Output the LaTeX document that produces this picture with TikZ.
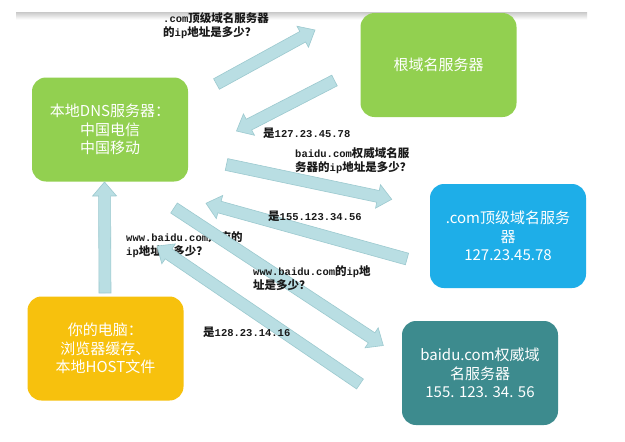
\documentclass[tikz,border=0pt]{standalone}
\usepackage{fontspec}
\usetikzlibrary{calc}
\newfontfamily\cjkfont{Noto Sans CJK SC}
\newfontfamily\monofont{Liberation Mono}
\definecolor{greenc}{HTML}{92D050}
\definecolor{bluec}{HTML}{1EAEE8}
\definecolor{tealc}{HTML}{3D8B8E}
\definecolor{yellowc}{HTML}{F7C10D}
\definecolor{arrowc}{HTML}{B9DEE3}
\definecolor{arrowd}{HTML}{9CC9CF}
\definecolor{labelc}{HTML}{1A1A1A}
\newcommand\lat[1]{{\monofont\fontsize{10.5}{14}\selectfont #1}}
\newcommand\fatarrow[2]{%
  \coordinate (fab) at ($(#2)!14pt!(#1)$);
  \filldraw[fat] ($(#1)!6pt!90:(#2)$) -- ($(fab)!6pt!90:(#2)$) -- ($(fab)!12pt!90:(#2)$)
    -- (#2) -- ($(fab)!12pt!-90:(#2)$) -- ($(fab)!6pt!-90:(#2)$) -- ($(#1)!6pt!-90:(#2)$) -- cycle;}
\tikzset{
  box/.style={rounded corners=14pt, minimum width=156pt, minimum height=104pt,
    inner sep=0pt, align=center, text=white, font=\cjkfont\fontsize{15}{18.5}\selectfont},
  lbl/.style={inner sep=0pt, anchor=west, align=left, text=labelc,
    font=\cjkfont\bfseries\fontsize{11.5}{14}\selectfont},
  fat/.style={fill=arrowc, draw=arrowd, line width=0.6pt, line join=miter}
}
\begin{document}
\begin{tikzpicture}[x=1pt,y=-1pt]
\useasboundingbox (0,0) rectangle (625,442);
\fill[white] (0,0) rectangle (625,442);
% top shadow line
\shade[top color=black!20, bottom color=white] (16,12.5) rectangle (587,19.5);
% boxes
\node[box, fill=greenc] (root) at (438.5,65) {根域名服务器};
\node[box, fill=greenc] (local) at (110,129.5) {本地DNS服务器：\\中国电信\\中国移动};
\node[box, fill=bluec] (com) at (508,236) {.com顶级域名服务\\器\\127.23.45.78};
\node[box, fill=tealc] (baidu) at (480,373) {baidu.com权威域\\名服务器\\155. 123. 34. 56};
\node[box, fill=yellowc] (pc) at (105.5,348.5) {你的电脑：\\浏览器缓存、\\本地HOST文件};
% label hidden under arrow
\node[lbl] (l5) at (126,245) {\lat{www.baidu.com}对应的\\\lat{ip}地址是多少？};
% arrow end points
\coordinate (a1t) at (216.5,84);  \coordinate (a1h) at (315,30);
\coordinate (a2t) at (334.5,80.5); \coordinate (a2h) at (236.5,131);
\coordinate (a3t) at (226.5,164.5); \coordinate (a3h) at (391.7,199.3);
\coordinate (a4t) at (407,259);   \coordinate (a4h) at (206,203.3);
\coordinate (a5t) at (105,293);   \coordinate (a5h) at (104.5,182);
\coordinate (a6t) at (174,208);   \coordinate (a6h) at (383.3,345.5);
\coordinate (a7t) at (360,384);   \coordinate (a7h) at (157,246);
\fatarrow{a1t}{a1h}
\fatarrow{a2t}{a2h}
\fatarrow{a3t}{a3h}
\fatarrow{a4t}{a4h}
\fatarrow{a5t}{a5h}
\fatarrow{a6t}{a6h}
\fatarrow{a7t}{a7h}
% labels
\node[lbl] (l1) at (163,26) {\lat{.com}顶级域名服务器\\的\lat{ip}地址是多少？};
\node[lbl] (l2) at (263,133) {是\lat{127.23.45.78}};
\node[lbl] (l3) at (295,160.5) {\lat{baidu.com}权威域名服\\务器的\lat{ip}地址是多少？};
\node[lbl] (l4) at (268,216) {是\lat{155.123.34.56}};
\node[lbl] (l6) at (253,278.5) {\lat{www.baidu.com}的\lat{ip}地\\址是多少？};
\node[lbl] (l7) at (203,332) {是\lat{128.23.14.16}};
\end{tikzpicture}
\end{document}
